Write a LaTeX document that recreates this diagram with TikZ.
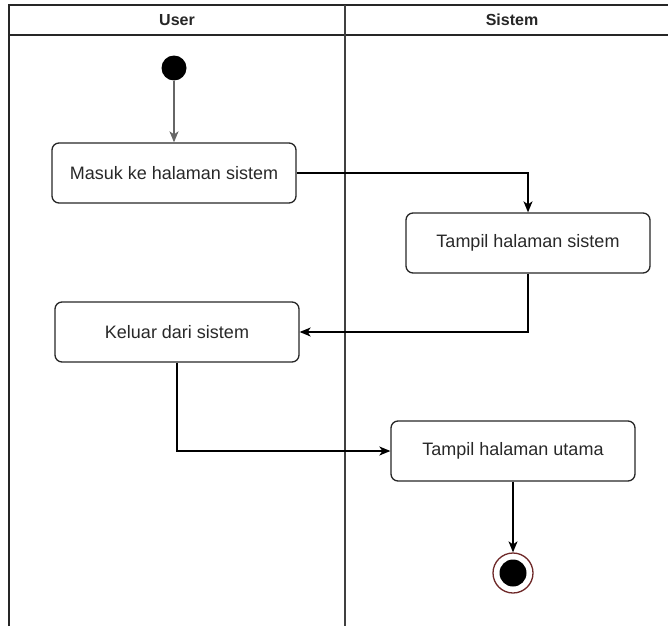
\documentclass[tikz,border=0pt]{standalone}
\usepackage{fontspec}
\setmainfont{Liberation Sans}
\usetikzlibrary{arrows.meta}
\definecolor{ringred}{RGB}{110,40,40}
\definecolor{textgray}{RGB}{40,40,40}
\begin{document}
\begin{tikzpicture}[x=1pt,y=-1pt,
  lane/.style={line width=1.5pt,draw=black!85},
  action/.style={draw=black!85,line width=1.3pt,rounded corners=7pt,
    minimum width=244pt,minimum height=60pt,inner sep=0pt,
    text=textgray,font=\fontsize{18}{21}\selectfont},
  head/.style={font=\bfseries\fontsize{16}{19}\selectfont,text=black!85},
  flow/.style={line width=1.3pt,draw=black,
    -{Stealth[length=11pt,width=9pt,inset=3pt]}}]
\useasboundingbox (0,0) rectangle (668,626);

% swimlane frame
\draw[lane] (9,626) -- (9,5) -- (668,5);
\draw[lane] (9,35) -- (668,35);
\draw[lane,draw=black!75] (345,5) -- (345,626);
\node[head] (hUser) at (177,20) {User};
\node[head] (hSistem) at (512,20) {Sistem};

% initial and final states
\node[circle,fill=black,minimum size=25pt,inner sep=0pt] (start) at (174,68) {};
\node[circle,draw=ringred,line width=1.3pt,fill=white,minimum size=40pt,inner sep=0pt] (end) at (513,573) {};
\node[circle,fill=black,minimum size=27pt,inner sep=0pt] (endcore) at (513,573) {};

% actions
\node[action] (masuk)  at (174,173) {Masuk ke halaman sistem};
\node[action] (tampil) at (528,243) {Tampil halaman sistem};
\node[action] (keluar) at (177,332) {Keluar dari sistem};
\node[action] (utama)  at (513,451) {Tampil halaman utama};

% control flow
\draw[flow,draw=black!60] (start) -- (masuk);
\draw[flow] (masuk.east) -| (tampil.north);
\draw[flow] (tampil.south) |- (keluar.east);
\draw[flow] (keluar.south) |- (utama.west);
\draw[flow] (utama.south) -- (end.north);
\end{tikzpicture}
\end{document}
